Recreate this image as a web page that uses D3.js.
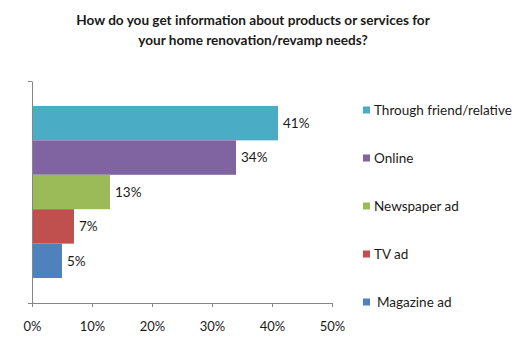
<!DOCTYPE html>
<html>
<head>
<meta charset="utf-8">
<script src="https://cdn.jsdelivr.net/npm/d3@7"></script>
<style>
  body { margin: 0; background: #fff; }
  text { font-family: Lato, "Open Sans", sans-serif; fill: #1a1a1a; }
</style>
</head>
<body>
<div id="chart"></div>
<script>
var series = ["Through friend/relative", "Online", "Newspaper ad", "TV ad", "Magazine ad"];
var values = [41, 34, 13, 7, 5];
var colors = ["#4bacc6", "#8064a2", "#9bbb59", "#c0504d", "#4f81bd"];
var xTicks = [0, 10, 20, 30, 40, 50];
var titleLines = ["How do you get information about products or services for",
                  "your home renovation/revamp needs?"];

var width = 520, height = 361;
var plot = { left: 32, right: 332, top: 81, bottom: 303 };

var svg = d3.select("#chart").append("svg")
    .attr("width", width)
    .attr("height", height);

// title
svg.selectAll(".title")
    .data(titleLines)
    .enter().append("text")
    .attr("class", "title")
    .attr("x", 253)
    .attr("y", function (d, i) { return 25 + i * 20; })
    .attr("text-anchor", "middle")
    .attr("font-size", 13.6)
    .attr("font-weight", "bold")
    .text(function (d) { return d; });

var x = d3.scaleLinear().domain([0, 50]).range([plot.left, plot.right]);
var y = d3.scaleBand().domain(series).range([plot.top, plot.bottom])
    .paddingInner(0).paddingOuter(0.725);

// bars
svg.selectAll(".bar")
    .data(series)
    .enter().append("rect")
    .attr("class", "bar")
    .attr("x", x(0))
    .attr("y", function (d) { return y(d); })
    .attr("width", function (d, i) { return x(values[i]) - x(0); })
    .attr("height", y.bandwidth())
    .attr("fill", function (d, i) { return colors[i]; });

// data labels
svg.selectAll(".lbl")
    .data(series)
    .enter().append("text")
    .attr("class", "lbl")
    .attr("x", function (d, i) { return x(values[i]) + 5; })
    .attr("y", function (d) { return y(d) + y.bandwidth() / 2; })
    .attr("dy", "0.35em")
    .attr("font-size", 13.5)
    .text(function (d, i) { return values[i] + "%"; });

// x axis
var xAxis = svg.append("g")
    .attr("transform", "translate(0," + plot.bottom + ")")
    .call(d3.axisBottom(x).tickValues(xTicks).tickSize(4).tickSizeOuter(0)
        .tickFormat(function (d) { return d + "%"; }));
xAxis.select(".domain").attr("stroke", "#868686");
xAxis.selectAll(".tick line").attr("stroke", "#868686");
xAxis.selectAll(".tick text")
    .attr("font-family", "Lato, sans-serif")
    .attr("font-size", 13)
    .attr("fill", "#1a1a1a")
    .attr("y", 23)
    .attr("dy", "0.35em");

// y axis (single category, ticks at ends)
var yScale = d3.scaleLinear().domain([0, 1]).range([plot.bottom, plot.top]);
var yAxis = svg.append("g")
    .attr("transform", "translate(" + plot.left + ",0)")
    .call(d3.axisLeft(yScale).tickValues([0, 1]).tickSize(4).tickSizeOuter(0).tickFormat(""));
yAxis.select(".domain").attr("stroke", "#868686");
yAxis.selectAll(".tick line").attr("stroke", "#868686");

// legend
var legend = svg.selectAll(".leg")
    .data(series)
    .enter().append("g")
    .attr("class", "leg")
    .attr("transform", function (d, i) { return "translate(363," + (110 + i * 48) + ")"; });
legend.append("rect")
    .attr("x", 0).attr("y", -3.5)
    .attr("width", 7).attr("height", 7)
    .attr("fill", function (d, i) { return colors[i]; });
legend.append("text")
    .attr("x", function (d, i) { return i === 4 ? 14 : 11; })
    .attr("dy", "0.35em")
    .attr("font-size", 13.5)
    .text(function (d) { return d; });
</script>
</body>
</html>
